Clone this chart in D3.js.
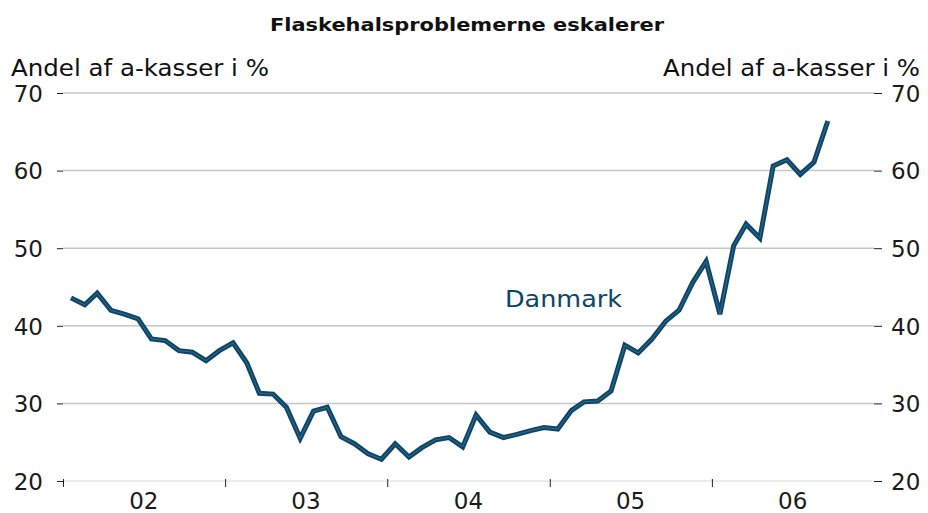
<!DOCTYPE html>
<html>
<head>
    <title>Flaskehalsproblemerne eskalerer</title>
    <script src="https://cdn.jsdelivr.net/npm/d3@7"></script>
    <style>
        body { margin: 0; background: #fff; }
    </style>
</head>
<body>
    <svg width="928" height="513" id="mainsvg"></svg>
    <script>
        // monthly share, Jan 2002 - Sep 2006
        const startYear = 2002;
        const danmark = [
            43.6, 42.7, 44.2, 42.0, 41.5, 40.9, 38.3, 38.1, 36.8, 36.6, 35.5, 36.8,
            37.8, 35.2, 31.3, 31.2, 29.5, 25.5, 29.0, 29.5, 25.7, 24.8, 23.5, 22.8,
            24.8, 23.1, 24.3, 25.3, 25.6, 24.4, 28.5, 26.3, 25.6, 26.0, 26.5, 26.9,
            26.7, 29.1, 30.2, 30.3, 31.6, 37.5, 36.5, 38.3, 40.6, 42.0, 45.6, 48.3,
            41.5, 50.3, 53.1, 51.3, 60.6, 61.4, 59.5, 61.1, 66.4
        ];
        const yTicks = [20, 30, 40, 50, 60, 70];
        const yearLabels = ['02', '03', '04', '05', '06'];

        const svg = d3.select('#mainsvg');
        const width = +svg.attr('width');
        const margin = { top: 93, right: 54, bottom: 32, left: 63 };
        const innerWidth = width - margin.left - margin.right;
        const innerHeight = 513 - margin.top - margin.bottom;
        const font = "'DejaVu Sans', sans-serif";
        const lineColor = '#0d4568';

        const g = svg.append('g')
            .attr('transform', `translate(${margin.left}, ${margin.top})`);

        const xScale = d3.scaleTime()
            .domain([new Date(startYear, 0, 1), new Date(startYear + 5, 0, 1)])
            .range([0, innerWidth]);
        const yScale = d3.scaleLinear()
            .domain([20, 70])
            .range([innerHeight, 0]);

        const data = danmark.map((v, i) => ({ date: new Date(startYear, i, 19), value: v }));

        // gridlines
        g.selectAll('.grid').data(yTicks).join('line')
            .attr('class', 'grid')
            .attr('x1', 0).attr('x2', innerWidth)
            .attr('y1', d => yScale(d)).attr('y2', d => yScale(d))
            .attr('stroke', d => d === 20 ? '#e6e6e6' : '#c6c6c6')
            .attr('stroke-width', 1.5);

        // y axes both sides
        const yLeft = d3.axisLeft(yScale).tickValues(yTicks).tickSize(6).tickPadding(14);
        const yRight = d3.axisRight(yScale).tickValues(yTicks).tickSize(8).tickPadding(9);
        [g.append('g').call(yLeft),
         g.append('g').attr('transform', `translate(${innerWidth}, 0)`).call(yRight)]
            .forEach(ax => {
                ax.select('.domain').remove();
                ax.selectAll('.tick line').attr('stroke', '#222');
                ax.selectAll('.tick text')
                    .attr('font-family', font)
                    .attr('font-size', 23)
                    .attr('fill', '#1a1a1a')
                    .attr('dy', '0.36em');
            });

        // x axis: year boundaries as ticks, labels mid-year
        const years = d3.range(startYear, startYear + 5).map(y => new Date(y, 0, 1));
        const xAxis = d3.axisBottom(xScale).tickValues(years).tickSize(6).tickFormat('');
        const xg = g.append('g').attr('transform', `translate(0, ${innerHeight})`).call(xAxis);
        xg.select('.domain').remove();
        xg.selectAll('.tick line').attr('stroke', '#222').attr('y1', -2);

        g.selectAll('.xlabel').data(yearLabels).join('text')
            .attr('class', 'xlabel')
            .attr('x', (d, i) => xScale(new Date(startYear + i, 6, 2)))
            .attr('y', innerHeight + 28)
            .attr('text-anchor', 'middle')
            .attr('font-family', font)
            .attr('font-size', 23)
            .attr('fill', '#1a1a1a')
            .text(d => d);

        // line: dark stroke with thin lighter core
        const line = d3.line().x(d => xScale(d.date)).y(d => yScale(d.value));
        g.append('path').datum(data)
            .attr('d', line)
            .attr('fill', 'none')
            .attr('stroke', lineColor)
            .attr('stroke-width', 5)
            .attr('stroke-linejoin', 'miter');
        g.append('path').datum(data)
            .attr('d', line)
            .attr('fill', 'none')
            .attr('stroke', '#3f7696')
            .attr('stroke-width', 0.8);

        g.append('text')
            .attr('x', 442)
            .attr('y', yScale(42.4))
            .attr('font-family', font)
            .attr('font-size', 23)
            .attr('textLength', 117)
            .attr('lengthAdjust', 'spacingAndGlyphs')
            .attr('fill', lineColor)
            .text('Danmark');

        // title + axis titles
        svg.append('text')
            .attr('x', 270).attr('y', 31)
            .attr('font-family', font)
            .attr('font-size', 17)
            .attr('font-weight', 'bold')
            .attr('textLength', 394)
            .attr('lengthAdjust', 'spacingAndGlyphs')
            .attr('fill', '#111')
            .text('Flaskehalsproblemerne eskalerer');

        svg.append('text')
            .attr('x', 11).attr('y', 76)
            .attr('font-family', font)
            .attr('font-size', 23)
            .attr('textLength', 258)
            .attr('lengthAdjust', 'spacingAndGlyphs')
            .attr('fill', '#111')
            .text('Andel af a-kasser i %');
        svg.append('text')
            .attr('x', 663).attr('y', 76)
            .attr('font-family', font)
            .attr('font-size', 23)
            .attr('textLength', 257)
            .attr('lengthAdjust', 'spacingAndGlyphs')
            .attr('fill', '#111')
            .text('Andel af a-kasser i %');
    </script>
</body>
</html>
